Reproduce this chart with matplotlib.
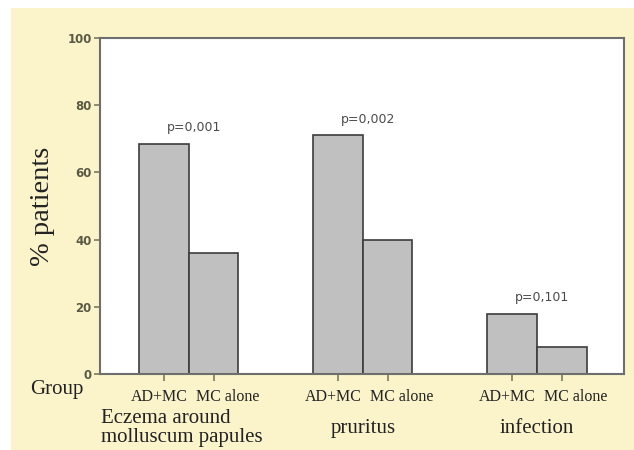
import matplotlib
matplotlib.use('Agg')
import matplotlib.pyplot as plt
from matplotlib.patches import Rectangle
from matplotlib.transforms import ScaledTranslation
import numpy as np

# Data
groups = ['Eczema around\nmolluscum papules', 'pruritus', 'infection']
ad_mc = [68.5, 71, 18]
mc_alone = [36, 40, 8]
p_values = ['p=0,001', 'p=0,002', 'p=0,101']
sub_labels = ['AD+MC', 'MC alone']
y_ticks = [0, 20, 40, 60, 80, 100]

yellow = '#FBF4CB'
serif = ['Liberation Serif', 'DejaVu Serif']

fig = plt.figure(figsize=(6.34, 4.5), dpi=100, facecolor='white')
# pale yellow panel with a thin white border top / left
fig.patches.append(Rectangle((11 / 634, 0), 1, 1 - 8 / 450, transform=fig.transFigure,
                             facecolor=yellow, edgecolor='none', zorder=-5))

ax = fig.add_axes([100 / 634, 1 - 374 / 450, 524 / 634, 336 / 450])
ax.set_facecolor('white')

x = np.arange(len(groups))
w = 0.285
ax.bar(x - w / 2, ad_mc, w, color='#C0C0C0', edgecolor='#3c3c3c', linewidth=1.2, zorder=2)
ax.bar(x + w / 2, mc_alone, w, color='#C0C0C0', edgecolor='#3c3c3c', linewidth=1.2, zorder=2)

for i, p in enumerate(p_values):
    top = max(ad_mc[i], mc_alone[i])
    ax.text(x[i] + 0.03, top + 4.8, p, ha='center', va='center', fontsize=9,
            color='#4a4a4a', family='DejaVu Sans')

ax.set_xlim(-0.51, 2.5)
ax.set_ylim(0, 100)
ax.set_yticks(y_ticks)
ax.set_yticklabels([str(t) for t in y_ticks], fontsize=8.5, fontweight='bold', color='#5a5a44')

tick_pos = np.concatenate([[g - w / 2, g + w / 2] for g in x])
ax.set_xticks(tick_pos)
ax.set_xticklabels(sub_labels * len(groups), fontsize=11.5, family=serif, color='#222222')
ax.tick_params(axis='x', length=5, width=1.2, color='#7a7a60', pad=6)
ax.tick_params(axis='y', length=4, width=1.2, color='#7a7a60', pad=2)

# nudge the sub labels apart like in the original
for k, lab in enumerate(ax.get_xticklabels()):
    dx = -5 if k % 2 == 0 else 14
    lab.set_transform(lab.get_transform() + ScaledTranslation(dx / 100, 0, fig.dpi_scale_trans))

for s in ax.spines.values():
    s.set_color('#6e6e6e')
    s.set_linewidth(1.5)

ax.set_ylabel('% patients', fontsize=20.5, family=serif, color='#222222', labelpad=9)

# group labels under the axis
ax.text(0.002, -0.16, groups[0], transform=ax.transAxes, ha='left', va='center',
        fontsize=15, family=serif, color='#222222', linespacing=1.0)
for i in range(1, len(groups)):
    ax.text(x[i], -0.162, groups[i], transform=ax.get_xaxis_transform(), ha='center',
            va='center', fontsize=15, family=serif, color='#222222')
ax.text(-0.082, -0.045, 'Group', transform=ax.transAxes, ha='center', va='center',
        fontsize=15, family=serif, color='#222222')

fig.savefig('out.png', dpi=100, facecolor=fig.get_facecolor())
